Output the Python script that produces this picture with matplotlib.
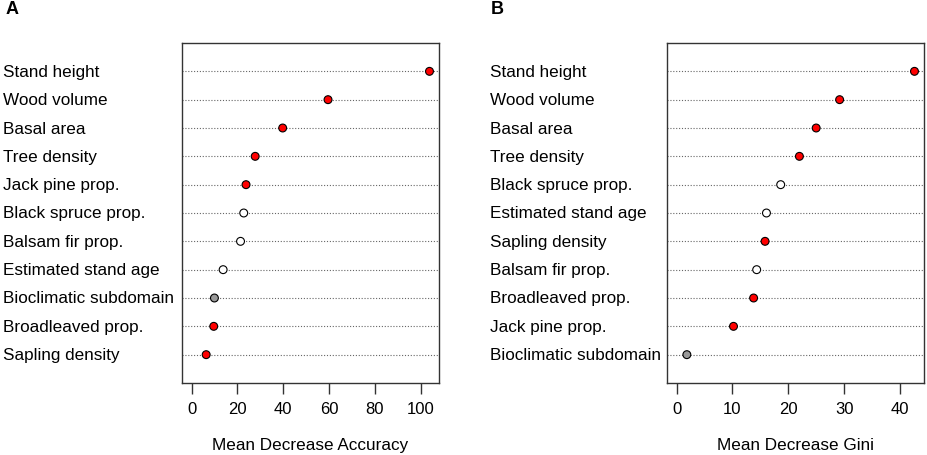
import matplotlib
matplotlib.use("Agg")
import matplotlib.pyplot as plt
import matplotlib.transforms as mtransforms

plt.rcParams['font.family'] = ['Liberation Sans', 'DejaVu Sans']

# panel A: mean decrease accuracy (top to bottom)
acc_vars = ['Stand height', 'Wood volume', 'Basal area', 'Tree density',
            'Jack pine prop.', 'Black spruce prop.', 'Balsam fir prop.',
            'Estimated stand age', 'Bioclimatic subdomain', 'Broadleaved prop.',
            'Sapling density']
acc_vals = [103.9, 59.6, 39.8, 27.8, 23.8, 22.8, 21.4, 13.8, 10.0, 9.7, 6.4]

# panel B: mean decrease gini (top to bottom)
gini_vars = ['Stand height', 'Wood volume', 'Basal area', 'Tree density',
             'Black spruce prop.', 'Estimated stand age', 'Sapling density',
             'Balsam fir prop.', 'Broadleaved prop.', 'Jack pine prop.',
             'Bioclimatic subdomain']
gini_vals = [42.6, 29.2, 25.0, 22.0, 18.65, 16.1, 15.85, 14.35, 13.8, 10.2, 1.85]

# fill colour of each variable
var_colors = {
    'Stand height': 'red', 'Wood volume': 'red', 'Basal area': 'red',
    'Tree density': 'red', 'Jack pine prop.': 'red', 'Broadleaved prop.': 'red',
    'Sapling density': 'red', 'Black spruce prop.': 'white',
    'Balsam fir prop.': 'white', 'Estimated stand age': 'white',
    'Bioclimatic subdomain': '#999999',
}

W, H = 927, 456
fig = plt.figure(figsize=(W / 100, H / 100), dpi=100)


def dotpanel(rect, names, vals, ticks, xlabel, letter, label_x, letter_x):
    ax = fig.add_axes(rect)
    n = len(names)
    ys = list(range(n, 0, -1))
    for y in ys:
        ax.axhline(y, color='#666666', ls=(0, (1, 1.6)), lw=0.8, zorder=1)
    cols = [var_colors[v] for v in names]
    ax.scatter(vals, ys, s=32, c=cols, edgecolors='black', linewidths=0.8, zorder=3)
    xmax = max(vals)
    ax.set_xlim(-0.04 * xmax, 1.04 * xmax)
    ax.set_ylim(0, n + 1)
    ax.set_yticks([])
    ax.set_xticks(ticks)
    ax.tick_params(axis='x', direction='out', length=8, width=1, pad=5,
                   labelsize=12, color='#333333')
    for sp in ax.spines.values():
        sp.set_color('#333333')
        sp.set_linewidth(1)
    ax.set_xlabel(xlabel, fontsize=12.3, labelpad=15)
    tr = mtransforms.blended_transform_factory(fig.transFigure, ax.transData)
    for name, y in zip(names, ys):
        ax.text(label_x / W, y, name, transform=tr, ha='left', va='center',
                fontsize=12.3, clip_on=False)
    fig.text(letter_x / W, 1 - 9 / H, letter, fontsize=13, fontweight='bold',
             ha='left', va='center')
    return ax


dotpanel([182 / W, 1 - 384 / H, 257 / W, 340 / H], acc_vars, acc_vals,
         [0, 20, 40, 60, 80, 100], 'Mean Decrease Accuracy', 'A', 3, 6)
dotpanel([667 / W, 1 - 384 / H, 257 / W, 340 / H], gini_vars, gini_vals,
         [0, 10, 20, 30, 40], 'Mean Decrease Gini', 'B', 490, 491)

fig.savefig('out.png', dpi=100)
